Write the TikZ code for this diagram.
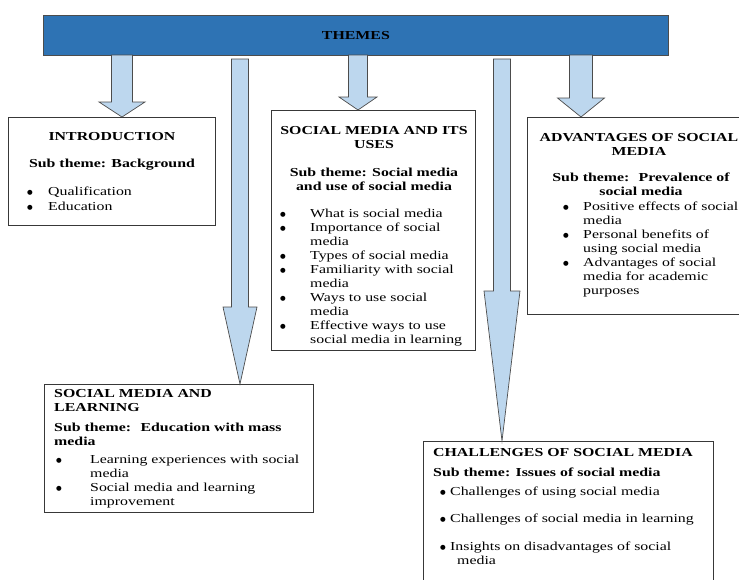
\documentclass[tikz,border=0pt]{standalone}
\usepackage{fontspec}
\setmainfont{Liberation Serif}[FakeStretch=1.3]
\newfontfamily\dotfont{DejaVu Sans}
\usetikzlibrary{calc}

\definecolor{barblue}{RGB}{46,115,180}
\definecolor{arrblue}{RGB}{189,215,238}

\tikzstyle{bar}=[draw=black!70,fill=barblue,line width=0.8pt,inner sep=0,anchor=north west]
\tikzstyle{bx}=[draw=black!78,line width=0.9pt,fill=white,inner sep=0,anchor=north west]
\tikzstyle{blk}=[draw=black!70,fill=arrblue,line width=0.7pt]
\tikzstyle{ttl}=[inner sep=0,anchor=base,font=\fontsize{12.2}{14}\selectfont\bfseries]
\tikzstyle{ttll}=[ttl,anchor=base west]
\tikzstyle{lst}=[inner sep=0,anchor=base west]

\newlength\bulind
\newcommand\bdot{\raisebox{1pt}{\dotfont\fontsize{6.5}{7}\selectfont ●}}
\newcommand\li[1]{\par\hangindent=\bulind\hangafter=1\noindent\makebox[\bulind][l]{\bdot}#1}
\newcommand\blkarrow[5]{%
  \draw[blk] let \p1=#1, \p2=#2 in
    (\x1-#3pt,\y1) -- (\x1+#3pt,\y1) -- (\x1+#3pt,\y2+#5pt) -- (\x1+#4pt,\y2+#5pt)
    -- (\x1,\y2) -- (\x1-#4pt,\y2+#5pt) -- (\x1-#3pt,\y2+#5pt) -- cycle;}

\begin{document}
\begin{tikzpicture}[x=1pt,y=-1pt,font=\fontsize{12.2}{14}\selectfont]
  \useasboundingbox (0,0) rectangle (739,579);
  \clip (0,0) rectangle (739,579);

  \node[bar,minimum width=625pt,minimum height=40pt] (themes) at (43,15) {\textbf{THEMES}};

  \node[bx,minimum width=207pt,minimum height=108pt] (intro) at (8,117) {};
  \node[bx,minimum width=204pt,minimum height=240pt] (uses) at (271,110) {};
  \node[bx,minimum width=240pt,minimum height=197pt] (adv) at (527,117) {};
  \node[bx,minimum width=269pt,minimum height=128pt] (learn) at (44,384) {};
  \node[bx,minimum width=290pt,minimum height=160pt] (chall) at (423,441) {};

  \coordinate (a1) at (122,55);
  \coordinate (a2) at (240,59);
  \coordinate (a3) at (358,55);
  \coordinate (a4) at (502,59);
  \coordinate (a5) at (581,55);

  \blkarrow{(a1)}{(intro.north -| a1)}{10.5}{23}{15}
  \blkarrow{(a2)}{(learn.north -| a2)}{8.5}{17}{77}
  \blkarrow{(a3)}{(uses.north -| a3)}{9.5}{19}{13}
  \blkarrow{(a4)}{(chall.north -| a4)}{8.5}{18}{150}
  \blkarrow{(a5)}{(adv.north -| a5)}{11.5}{23.5}{19}

  % introduction
  \node[ttl] (introt) at (112,140) {INTRODUCTION};
  \node[ttl] (intros) at (112,167) {Sub theme: Background};
  \node[lst] (introl) at (27,195) {\setlength\bulind{21pt}\parbox[t]{180pt}{\raggedright
    \fontsize{12.2}{15}\selectfont
    \li{Qualification}
    \li{Education}}};

  % social media and its uses
  \node[ttl] (usest) at (374,134) {\parbox[t]{220pt}{\centering SOCIAL MEDIA AND ITS\\USES}};
  \node[ttl] (usess) at (374,176) {\parbox[t]{220pt}{\centering Sub theme: Social media\\and use of social media}};
  \node[lst] (usesl) at (280,217) {\setlength\bulind{30pt}\parbox[t]{200pt}{\raggedright
    \li{What is social media}
    \li{Importance of social\newline media}
    \li{Types of social media}
    \li{Familiarity with social\newline media}
    \li{Ways to use social\newline media}
    \li{Effective ways to use\newline social media in learning}}};

  % advantages
  \node[ttl] (advt) at (639,141) {\parbox[t]{240pt}{\centering ADVANTAGES OF SOCIAL\\MEDIA}};
  \node[ttl] (advs) at (641,181) {\parbox[t]{240pt}{\centering Sub theme:~ Prevalence of\\social media}};
  \node[lst] (advl) at (563,210) {\setlength\bulind{20pt}\parbox[t]{220pt}{\raggedright
    \li{Positive effects of social\newline media}
    \li{Personal benefits of\newline using social media}
    \li{Advantages of social\newline media for academic\newline purposes}}};

  % social media and learning
  \node[ttll] (learnt) at (54,397) {\parbox[t]{250pt}{\raggedright SOCIAL MEDIA AND\\LEARNING}};
  \node[ttll] (learns) at (54,431) {\parbox[t]{250pt}{\raggedright Sub theme:~ Education with mass\\media}};
  \node[lst] (learnl) at (56,463) {\setlength\bulind{34pt}\parbox[t]{250pt}{\raggedright
    \li{Learning experiences with social\newline media}
    \li{Social media and learning\newline improvement}}};

  % challenges
  \node[ttll] (challt) at (433,456) {CHALLENGES OF SOCIAL MEDIA};
  \node[ttll] (challs) at (433,476) {Sub theme: Issues of social media};
  \node[lst] (challl) at (440,495) {\setlength\bulind{10pt}\parbox[t]{280pt}{\raggedright
    \setlength\parskip{13.5pt}
    \li{Challenges of using social media}
    \li{Challenges of social media in learning}
    \li{Insights on disadvantages of social\newline\hspace*{7pt}media}}};
\end{tikzpicture}
\end{document}
